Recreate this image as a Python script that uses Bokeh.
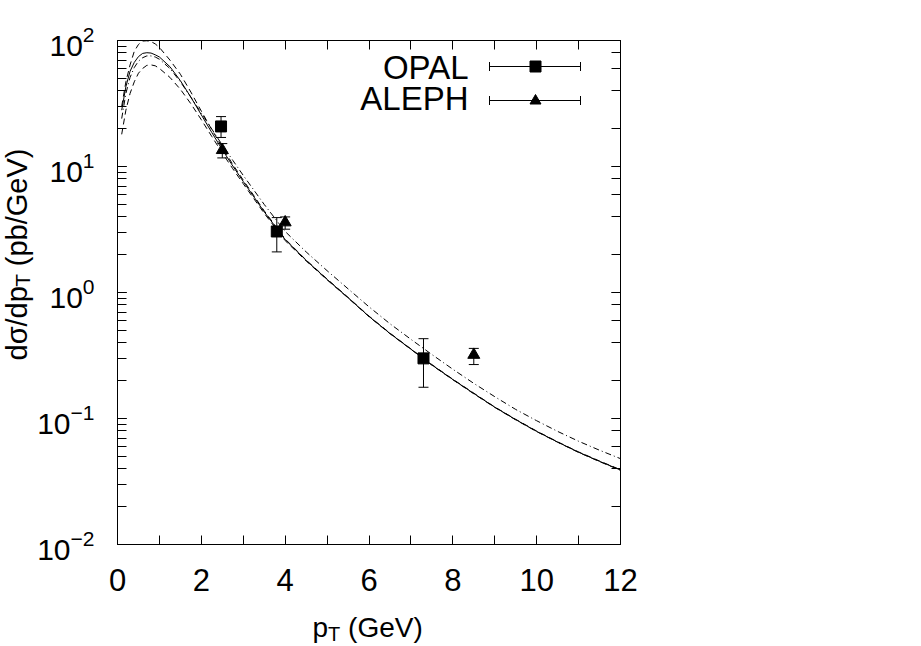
import math
from bokeh.plotting import figure
from bokeh.models import (Range1d, LinearAxis, LogAxis, FixedTicker, CustomJSTickFormatter,
                          ColumnDataSource, Whisker, TeeHead, Label, BoxAnnotation, PolyAnnotation)
from bokeh.embed import file_html
from bokeh.resources import INLINE

FONT = "Liberation Sans"

# ---- data ----
pt = [0.1, 0.2, 0.3, 0.4, 0.5, 0.6, 0.7, 0.8, 0.9, 1.0,
      1.25, 1.5, 1.75, 2.0, 2.25, 2.5, 2.75, 3.0,
      3.5, 4.0, 4.5, 5.0, 5.5, 6.0, 6.5, 7.0, 7.5, 8.0, 8.5, 9.0, 9.5, 10.0, 10.5, 11.0, 11.5, 12.0]
central = [28, 43, 57, 67, 74.5, 79, 80, 79.5, 77, 74,
           62, 48, 35.5, 25.7, 18.6, 13.6, 10.1, 7.6,
           4.37, 2.63, 1.80, 1.27, 0.91, 0.646, 0.473, 0.355, 0.266, 0.204, 0.158, 0.123, 0.098, 0.079, 0.065, 0.054, 0.0457, 0.039]
upper = [30, 47, 64, 82, 93, 99, 99.5, 98, 94, 88,
         70, 54, 39, 27.5, 19.6, 14.2, 10.4, 7.8,
         4.45, 2.66, 1.81, 1.28, 0.915, 0.65, 0.476, 0.357, 0.268, 0.205, 0.159, 0.1235, 0.0985, 0.0795, 0.0653, 0.0543, 0.046, 0.0392]
lower = [18, 28, 38, 47, 55, 60, 63.5, 64, 63, 60,
         51, 41, 31.5, 23.5, 17.3, 12.8, 9.6, 7.3,
         4.25, 2.58, 1.78, 1.26, 0.905, 0.643, 0.471, 0.354, 0.265, 0.203, 0.157, 0.1225, 0.0975, 0.0787, 0.0648, 0.0538, 0.0455, 0.0388]
dashdot = [24, 38, 51, 61, 68.5, 73, 75.5, 75.5, 74, 71,
           60, 47, 35.5, 26.5, 19.8, 14.8, 11.2, 8.5,
           5.0, 3.05, 2.1, 1.49, 1.07, 0.77, 0.565, 0.425, 0.322, 0.246, 0.19, 0.149, 0.118, 0.096, 0.079, 0.066, 0.056, 0.048]

opal_pt = [2.47, 3.8, 7.3]
opal_val = [20.8, 3.05, 0.30]
opal_hi = [24.9, 3.93, 0.43]
opal_lo = [17.0, 2.1, 0.177]

aleph_pt = [2.5, 4.0, 8.5]
aleph_val = [13.5, 3.6, 0.32]
aleph_hi = [15.2, 3.98, 0.36]
aleph_lo = [11.7, 3.18, 0.268]

x_ticks = list(range(0, 13))
legend_names = ["OPAL", "ALEPH"]

# ---- layout constants (pixels) ----
FL, FT, FW, FH = 117, 40, 503, 504          # frame left/top/width/height on the page
XMIN, XMAX, YMIN, YMAX = 0, 12, 0.01, 100

p = figure(frame_width=FW, frame_height=FH,
           x_range=Range1d(XMIN, XMAX), y_range=Range1d(YMIN, YMAX),
           y_axis_type="log", output_backend="svg", toolbar_location=None,
           min_border_left=FL, min_border_right=921 - FL - FW, min_border_top=FT, min_border_bottom=102)
p.background_fill_color = "white"
p.border_fill_color = "white"
p.xgrid.visible = False
p.ygrid.visible = False
p.outline_line_color = "black"
p.outline_line_width = 1

xa = p.xaxis[0]
xa.ticker = FixedTicker(ticks=x_ticks)
xa.formatter = CustomJSTickFormatter(code="const t = Math.round(tick); return (t % 2 === 0) ? String(t) : '';")
xa.major_tick_in = 9
xa.major_tick_out = 0
xa.minor_tick_in = 0
xa.minor_tick_out = 0
xa.major_label_text_font = FONT
xa.major_label_text_font_size = "31px"
xa.major_label_text_color = "black"
xa.major_label_standoff = 24
xa.axis_line_color = "black"

ya = p.yaxis[0]
ya.major_tick_in = 9
ya.major_tick_out = 0
ya.minor_tick_in = 9
ya.minor_tick_out = 0
ya.major_label_text_font = FONT
ya.major_label_text_font_size = "30px"
ya.major_label_text_color = "black"
ya.major_label_standoff = 23
ya.axis_line_color = "black"

ra = LogAxis(formatter=CustomJSTickFormatter(code="return '';"),
             major_tick_in=9, major_tick_out=0, minor_tick_in=9, minor_tick_out=0,
             axis_line_color="black")
p.add_layout(ra, "right")
ta = LinearAxis(ticker=FixedTicker(ticks=x_ticks), formatter=CustomJSTickFormatter(code="return '';"),
                major_tick_in=9, major_tick_out=0, minor_tick_in=0, minor_tick_out=0,
                axis_line_color="black")
p.add_layout(ta, "above")

# ---- curves ----
curves = ColumnDataSource(dict(pt=pt, central=central, upper=upper, lower=lower, dashdot=dashdot))
p.line("pt", "upper", source=curves, line_color="black", line_width=1, line_dash="6 4")
p.line("pt", "lower", source=curves, line_color="black", line_width=1, line_dash="6 4")
p.line("pt", "dashdot", source=curves, line_color="black", line_width=1, line_dash="6 3 1 3")
p.line("pt", "central", source=curves, line_color="black", line_width=1)

# ---- data points ----
opal = ColumnDataSource(dict(x=opal_pt, y=opal_val, hi=opal_hi, lo=opal_lo))
aleph = ColumnDataSource(dict(x=aleph_pt, y=aleph_val, hi=aleph_hi, lo=aleph_lo))
for src in (opal, aleph):
    p.add_layout(Whisker(base="x", upper="hi", lower="lo", source=src, dimension="height",
                         line_color="black", line_width=1,
                         upper_head=TeeHead(size=10, line_color="black", line_width=1),
                         lower_head=TeeHead(size=10, line_color="black", line_width=1)))
p.scatter("x", "y", source=opal, marker="square", size=11, fill_color="black", line_color="black")
p.scatter("x", "y", source=aleph, marker="triangle", size=12, fill_color="black", line_color="black")

# ---- axis titles (with subscripts), placed in the roomy right-hand border panel ----
def px_x(X):
    return XMIN + (X - FL) / FW * (XMAX - XMIN)

def px_y(Y):
    lo, hi = math.log10(YMIN), math.log10(YMAX)
    return 10 ** (lo + (FT + FH - Y) / FH * (hi - lo))

def title_piece(X, Y, text, size, angle=0.0):
    p.add_layout(Label(x=px_x(X), y=px_y(Y), x_units="data", y_units="data", text=text, angle=angle,
                       text_align="left", text_baseline="alphabetic", text_font=FONT,
                       text_font_size=size, text_color="black"), "right")

# x title: p_T (GeV)
title_piece(312, 627, "p", "28px")
title_piece(327.6, 633, "T", "20px")
title_piece(347.6, 627, "(GeV)", "28px")
# y title: dσ/dp_T (pb/GeV), reading upwards
title_piece(16, 360, "dσ/dp", "29px", angle=math.pi / 2)
title_piece(22, 286.3, "T", "21px", angle=math.pi / 2)
title_piece(16, 265.7, "(pb/GeV)", "29px", angle=math.pi / 2)

# ---- legend ----
def legend_text(y, text):
    p.add_layout(Label(x=351, y=y, x_units="screen", y_units="screen", text=text,
                       text_align="right", text_baseline="middle", text_font=FONT,
                       text_font_size="33px", text_color="black"))

legend_text(477, legend_names[0])
legend_text(446, legend_names[1])
leg = ColumnDataSource(dict(base=[478, 444], lower=[372, 372], upper=[463, 463]))
p.add_layout(Whisker(base="base", lower="lower", upper="upper", source=leg, dimension="width",
                     base_units="screen", lower_units="screen", upper_units="screen",
                     line_color="black", line_width=1,
                     upper_head=TeeHead(size=9, line_color="black", line_width=1),
                     lower_head=TeeHead(size=9, line_color="black", line_width=1)))
p.add_layout(BoxAnnotation(left=412.5, right=423.5, bottom=472.5, top=483.5,
                           left_units="screen", right_units="screen",
                           bottom_units="screen", top_units="screen",
                           fill_color="black", fill_alpha=1.0, line_color="black", line_alpha=1.0))
p.add_layout(PolyAnnotation(xs=[412.5, 423.5, 418], ys=[440.5, 440.5, 450], xs_units="screen", ys_units="screen",
                            fill_color="black", fill_alpha=1.0, line_color="black", line_alpha=1.0))

open("out.html", "w").write(file_html(p, INLINE))
